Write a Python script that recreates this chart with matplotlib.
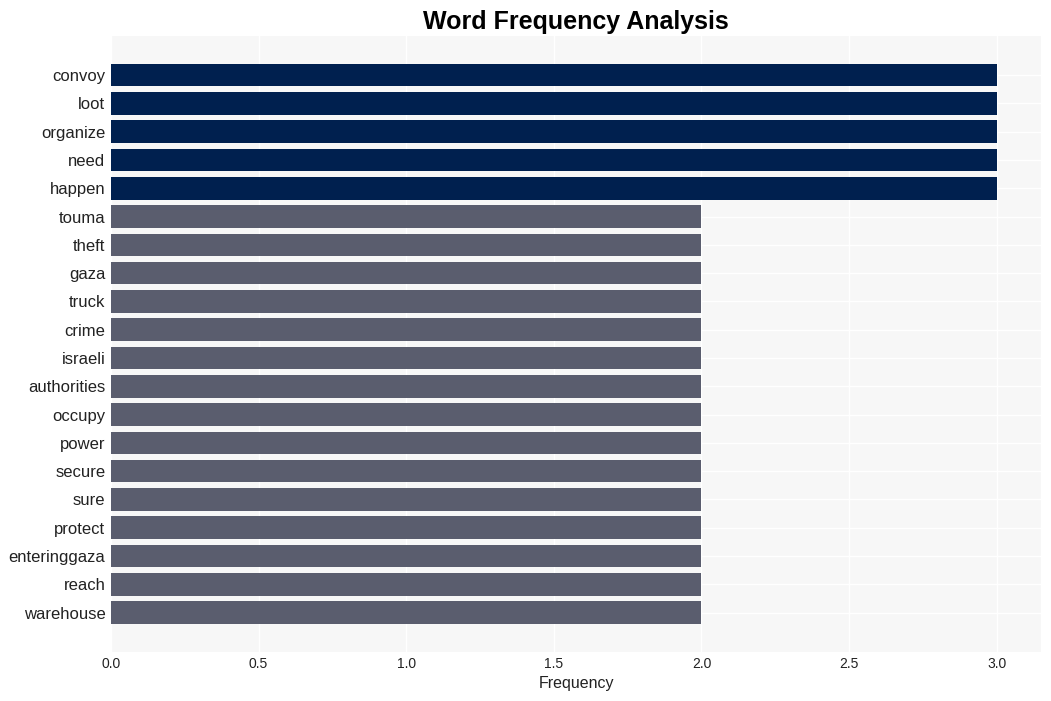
import matplotlib
matplotlib.use("Agg")
import matplotlib.pyplot as plt

plt.rcParams['font.family'] = ['Liberation Sans', 'DejaVu Sans']

# word frequencies, top to bottom
words = ["convoy", "loot", "organize", "need", "happen", "touma", "theft", "gaza",
         "truck", "crime", "israeli", "authorities", "occupy", "power", "secure",
         "sure", "protect", "enteringgaza", "reach", "warehouse"]
counts = [3, 3, 3, 3, 3, 2, 2, 2, 2, 2, 2, 2, 2, 2, 2, 2, 2, 2, 2, 2]

top_color = "#00204f"
rest_color = "#5a5d6e"
colors = [top_color if c == max(counts) else rest_color for c in counts]

fig, ax = plt.subplots(figsize=(10.51, 7.01), dpi=100)
fig.subplots_adjust(left=0.1056, right=0.9905, top=0.949, bottom=0.07)

ax.set_facecolor("#f7f7f7")
ax.grid(True, color="white", linewidth=1.0)
ax.set_axisbelow(True)
for s in ax.spines.values():
    s.set_visible(False)

y = list(range(len(words)))
ax.barh(y, counts, height=0.8, color=colors)
ax.set_yticks(y)
ax.set_yticklabels(words, fontsize=12, color="#222222")
ax.invert_yaxis()
ax.tick_params(axis="x", labelsize=10, length=0, pad=4, labelcolor="#222222")
ax.tick_params(axis="y", length=0, pad=4)
ax.set_xlabel("Frequency", fontsize=11.5, color="#222222", labelpad=3)
ax.set_title("Word Frequency Analysis", fontsize=18, fontweight="bold", pad=5)

fig.savefig("out.png", dpi=100)
